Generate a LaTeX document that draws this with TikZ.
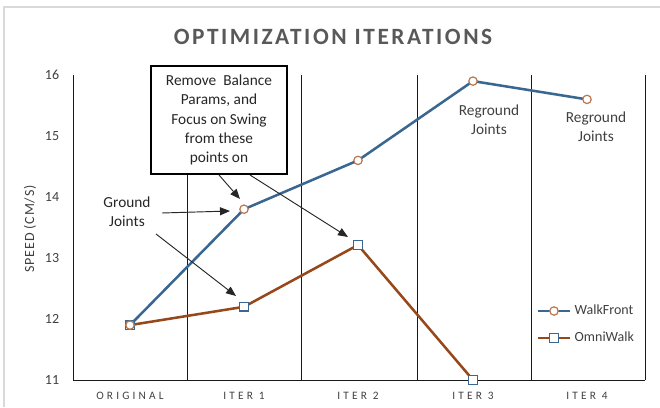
\documentclass[tikz,border=0pt]{standalone}
\usepackage{fontspec}
\setmainfont{Carlito}
\usetikzlibrary{arrows.meta,calc}
\definecolor{wfblue}{HTML}{3A6791}
\definecolor{owbrown}{HTML}{96481A}
\definecolor{mkorange}{HTML}{B9764E}
\definecolor{titlegray}{HTML}{595959}
\definecolor{tickgray}{HTML}{404040}
\definecolor{notegray}{HTML}{262626}
\definecolor{framegray}{HTML}{D9D9D9}
\begin{document}
\begin{tikzpicture}[x=0.75pt,y=-0.75pt,
  gridline/.style={black!90, line width=0.75pt},
  wf/.style={wfblue, line width=1.9pt, line join=round},
  ow/.style={owbrown, line width=1.9pt, line join=round},
  wfmark/.style={circle, draw=mkorange, fill=white, line width=0.9pt, minimum size=6.3pt, inner sep=0pt},
  owmark/.style={rectangle, draw=wfblue, fill=white, line width=0.9pt, minimum size=6.3pt, inner sep=0pt},
  ytick/.style={font=\fontsize{10.5}{12}\selectfont, text=tickgray},
  xtick/.style={font=\fontsize{8.5}{10}\selectfont\addfontfeatures{LetterSpace=28}, text=tickgray},
  note/.style={font=\fontsize{11.5}{14.5}\selectfont, text=notegray, align=center},
  legendtext/.style={font=\fontsize{10.5}{12}\selectfont, text=tickgray, anchor=west},
  callout/.style={notegray, line width=0.7pt, -{Triangle[length=7.5pt,width=6pt]}},
]
\useasboundingbox (0,0) rectangle (660,407);
% outer frame (partial)
\draw[framegray, line width=1.1pt] (4,407) -- (4,7) -- (660,7);

% title
\node[font=\fontsize{17.5}{20}\selectfont\bfseries\addfontfeatures{LetterSpace=11}, text=titlegray] (title) at (333,37) {OPTIMIZATION ITERATIONS};

% grid / axes
\coordinate (g0t) at (73,75);  \coordinate (g0b) at (73,380);
\coordinate (g1t) at (187,75); \coordinate (g1b) at (187,380);
\coordinate (g2t) at (301,75); \coordinate (g2b) at (301,380);
\coordinate (g3t) at (417,75); \coordinate (g3b) at (417,380);
\coordinate (g4t) at (531,75); \coordinate (g4b) at (531,380);
\coordinate (g5t) at (645,75); \coordinate (g5b) at (645,380);
\foreach \i in {0,...,5} { \draw[gridline] (g\i t) -- (g\i b); }
\draw[gridline] (g0b) -- (g5b);

% y tick labels
\node[ytick] (y16) at (52,75) {16};
\node[ytick] (y15) at (52,136) {15};
\node[ytick] (y14) at (52,197) {14};
\node[ytick] (y13) at (52,258) {13};
\node[ytick] (y12) at (52,319) {12};
\node[ytick] (y11) at (52,380) {11};
\node[font=\fontsize{10.5}{12}\selectfont\addfontfeatures{LetterSpace=6}, text=tickgray, rotate=90] (ylab) at (30,229) {SPEED (CM/S)};

% x labels
\node[xtick] (x0) at (130,396) {ORIGINAL};
\node[xtick] (x1) at (244,396) {ITER 1};
\node[xtick] (x2) at (358,396) {ITER 2};
\node[xtick] (x3) at (473,396) {ITER 3};
\node[xtick] (x4) at (587,396) {ITER 4};

% data
\coordinate (wf0) at (130,325.1);
\coordinate (wf1) at (244,209.2);
\coordinate (wf2) at (358,160.4);
\coordinate (wf3) at (473,81.1);
\coordinate (wf4) at (587,99.4);
\coordinate (ow0) at (130,325.1);
\coordinate (ow1) at (244,306.8);
\coordinate (ow2) at (358,245);
\coordinate (ow3) at (473,380);

\draw[ow] (ow0) -- (ow1) -- (ow2) -- (ow3);
\draw[wf] (wf0) -- (wf1) -- (wf2) -- (wf3) -- (wf4);
\node[owmark] (om0) at (ow0) {};
\node[owmark] (om1) at (ow1) {};
\node[owmark] (om2) at (ow2) {};
\node[owmark] (om3) at (ow3) {};
\node[wfmark] (wm0) at (wf0) {};
\node[wfmark] (wm1) at (wf1) {};
\node[wfmark] (wm2) at (wf2) {};
\node[wfmark] (wm3) at (wf3) {};
\node[wfmark] (wm4) at (wf4) {};

% legend
\coordinate (lg1a) at (538,311); \coordinate (lg1b) at (570,311);
\coordinate (lg2a) at (538,338); \coordinate (lg2b) at (570,338);
\draw[wf] (lg1a) -- (lg1b);
\draw[ow] (lg2a) -- (lg2b);
\node[wfmark] (lgm1) at (554,311) {};
\node[owmark] (lgm2) at (554,338) {};
\node[legendtext] (lgt1) at (570,310) {WalkFront};
\node[legendtext] (lgt2) at (570,337) {OmniWalk};

% annotation box
\node[draw=black, fill=white, line width=0.8pt, minimum width=102pt, minimum height=81pt, inner sep=2pt, note] (box) at (219,120)
  {Remove~ Balance\\Params, and\\Focus on Swing\\from these\\points on};
\coordinate (bs1) at (219,175);
\coordinate (bs2) at (250,175);
\coordinate (be1) at (240,199);
\coordinate (be2) at (348,237);
\draw[callout] (bs1) -- (be1);
\draw[callout] (bs2) -- (be2);

% ground joints
\node[note] (ground) at (127,212) {Ground\\Joints};
\coordinate (gs1) at (162,213);
\coordinate (ge1) at (230,211);
\coordinate (gs2) at (156,234);
\coordinate (ge2) at (236,296);
\draw[callout] (gs1) -- (ge1);
\draw[callout] (gs2) -- (ge2);

% reground labels
\node[note, text=tickgray] (reg3) at (489,120) {Reground\\Joints};
\node[note, text=tickgray] (reg4) at (596,127) {Reground\\Joints};
\end{tikzpicture}
\end{document}
